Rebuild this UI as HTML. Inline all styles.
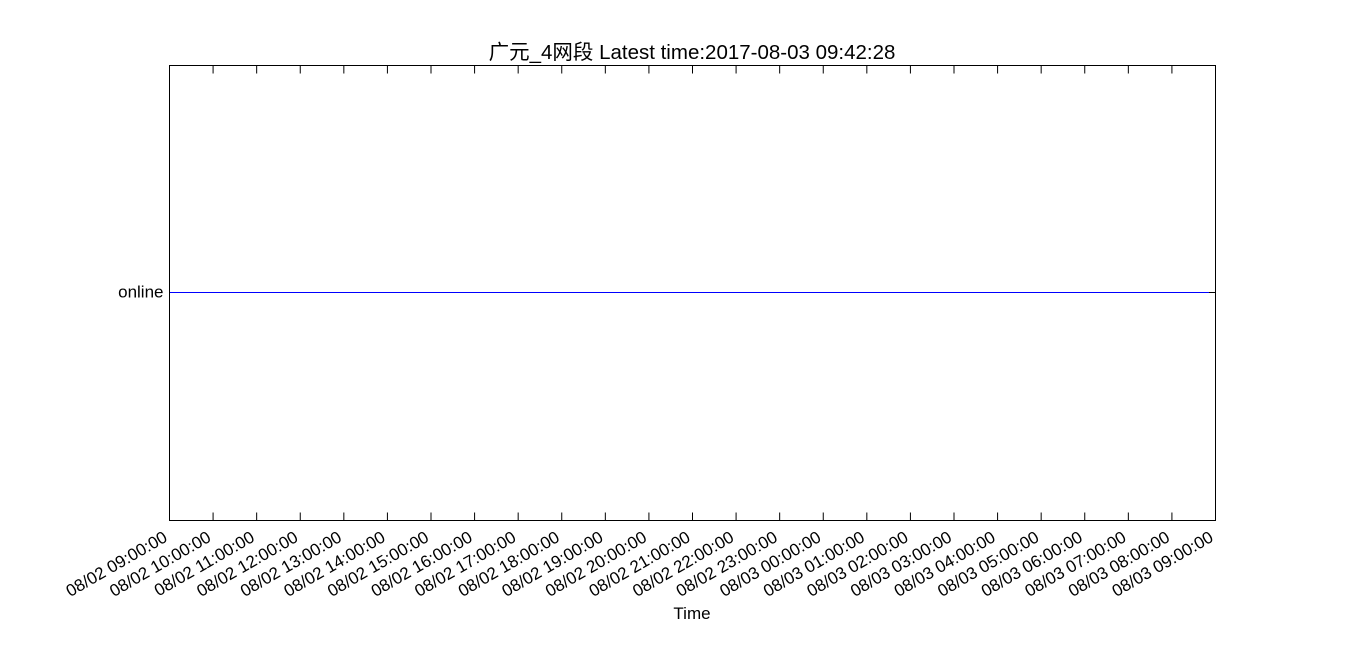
<!DOCTYPE html>
<html><head><meta charset="utf-8"><style>
body{margin:0;background:#fff;}
svg text{font-family:"Liberation Sans","Noto Sans CJK SC",sans-serif;fill:#000;}
</style></head><body>
<svg id="chart" width="1350" height="650" xmlns="http://www.w3.org/2000/svg">
<rect x="0" y="0" width="1350" height="650" fill="#fff"/>
<text x="692" y="59" font-size="20.5" text-anchor="middle">广元_4网段 Latest time:2017-08-03 09:42:28</text>
<g id="ticks"></g>
<g id="series"></g>
<rect x="169.5" y="65.5" width="1046" height="455" fill="none" stroke="#000" stroke-width="1"/>
<text x="692" y="619" font-size="17" text-anchor="middle">Time</text>
</svg>
<script>
const tickLabels = ["08/02 09:00:00","08/02 10:00:00","08/02 11:00:00","08/02 12:00:00","08/02 13:00:00","08/02 14:00:00","08/02 15:00:00","08/02 16:00:00","08/02 17:00:00","08/02 18:00:00","08/02 19:00:00","08/02 20:00:00","08/02 21:00:00","08/02 22:00:00","08/02 23:00:00","08/03 00:00:00","08/03 01:00:00","08/03 02:00:00","08/03 03:00:00","08/03 04:00:00","08/03 05:00:00","08/03 06:00:00","08/03 07:00:00","08/03 08:00:00","08/03 09:00:00"];
const tickHours = [0,1,2,3,4,5,6,7,8,9,10,11,12,13,14,15,16,17,18,19,20,21,22,23,24];
const categories = ["online"];
const seriesHours = [0, 23.85];
const seriesStates = ["online","online"];

const NS="http://www.w3.org/2000/svg";
const X0=169.5,X1=1215.5,Y0=65.5,Y1=520.5;
function xScale(h){return X0+(h-0)/(24-0)*(X1-X0);}
function yScale(c){const i=categories.indexOf(c);return Y0+(i+1)/(categories.length+1)*(Y1-Y0)-0.5;}
const tg=document.getElementById('ticks');
tickHours.forEach((h,i)=>{
  const x=xScale(h);
  const t=document.createElementNS(NS,'line');
  t.setAttribute('x1',x);t.setAttribute('x2',x);t.setAttribute('y1',Y1);t.setAttribute('y2',Y1-8);
  t.setAttribute('stroke','#000');
  
  
  tg.appendChild(t);
  const t2=document.createElementNS(NS,'line');
  t2.setAttribute('x1',x);t2.setAttribute('x2',x);t2.setAttribute('y1',Y0);t2.setAttribute('y2',Y0+8);
  t2.setAttribute('stroke','#000');
  
  
  tg.appendChild(t2);
  const lb=document.createElementNS(NS,'text');
  lb.textContent=tickLabels[i];
  lb.setAttribute('font-size','17');
  lb.setAttribute('text-anchor','end');
  lb.setAttribute('transform',`translate(${x-1},${Y1+20}) rotate(-30)`);
  
  
  tg.appendChild(lb);
});
categories.forEach(c=>{
  const y=yScale(c);
  [[X0,X0+8],[X1,X1-8]].forEach(p=>{
    const t=document.createElementNS(NS,'line');
    t.setAttribute('x1',p[0]);t.setAttribute('x2',p[1]);t.setAttribute('y1',y);t.setAttribute('y2',y);
    t.setAttribute('stroke','#000');
    
    
    tg.appendChild(t);
  });
  const lb=document.createElementNS(NS,'text');
  lb.textContent=c;
  lb.setAttribute('x',X0-6);lb.setAttribute('y',y+5);
  lb.setAttribute('font-size','17');
  lb.setAttribute('text-anchor','end');
  
  
  tg.appendChild(lb);
});
const pl=document.createElementNS(NS,'polyline');
pl.setAttribute('points',seriesHours.map((h,i)=>xScale(h)+','+yScale(seriesStates[i])).join(' '));
pl.setAttribute('fill','none');pl.setAttribute('stroke','#0000ff');pl.setAttribute('stroke-width','1');


document.getElementById('series').appendChild(pl);
</script>
</body></html>
